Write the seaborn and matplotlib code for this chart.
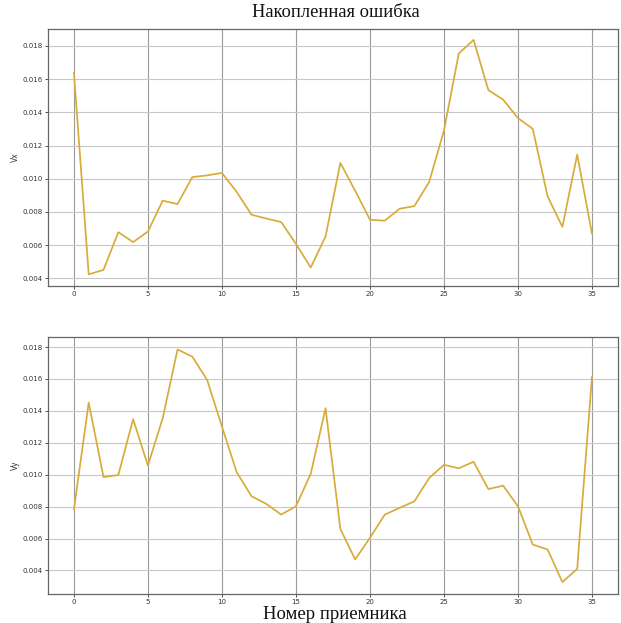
import numpy as np
import pandas as pd
import matplotlib
matplotlib.use("Agg")
import matplotlib.pyplot as plt
import seaborn as sns

receivers = list(range(36))
vx = [0.01639, 0.00424, 0.00451, 0.00678, 0.00618, 0.00682, 0.00868, 0.00847,
      0.01010, 0.01020, 0.01035, 0.00920, 0.00783, 0.00760, 0.00739, 0.00608,
      0.00465, 0.00652, 0.01095, 0.00928, 0.00753, 0.00747, 0.00819, 0.00835,
      0.00980, 0.01290, 0.01754, 0.01836, 0.01534, 0.01476, 0.01365, 0.01300,
      0.00894, 0.00710, 0.01145, 0.00668]
vy = [0.00781, 0.01452, 0.00985, 0.00998, 0.01348, 0.01058, 0.01354, 0.01785,
      0.01740, 0.01594, 0.01302, 0.01015, 0.00865, 0.00817, 0.00750, 0.00802,
      0.01006, 0.01417, 0.00660, 0.00469, 0.00604, 0.00750, 0.00792, 0.00833,
      0.00979, 0.01062, 0.01040, 0.01081, 0.00910, 0.00931, 0.00802, 0.00562,
      0.00531, 0.00327, 0.00410, 0.01615]
title = "Накопленная ошибка"
xlabel = "Номер приемника"
ylabels = ["Vx", "Vy"]

df = pd.DataFrame({"receiver": receivers, "Vx": vx, "Vy": vy})

sns.set_style("white")
fig = plt.figure(figsize=(6.21, 6.23), dpi=100)
ax1 = fig.add_axes([0.0773, 0.541, 0.9177, 0.4125])
ax2 = fig.add_axes([0.0773, 0.046, 0.9177, 0.413])

color = "#D8AC3A"
for ax, col, ylim in [(ax1, ylabels[0], (0.00354, 0.01902)), (ax2, ylabels[1], (0.0025, 0.01863))]:
    sns.lineplot(data=df, x="receiver", y=col, ax=ax, color=color, linewidth=1.25)
    ax.set_ylim(*ylim)
    ax.set_xlim(-1.75, 36.75)
    ax.set_xticks(range(0, 36, 5))
    ax.set_yticks([0.004, 0.006, 0.008, 0.010, 0.012, 0.014, 0.016, 0.018])
    ax.yaxis.set_major_formatter(matplotlib.ticker.FormatStrFormatter("%.3f"))
    ax.grid(axis="x", color="#9a9a9a", linewidth=0.8)
    ax.grid(axis="y", color="#c8c8c8", linewidth=0.8)
    ax.tick_params(labelsize=5.0, length=2.5, width=0.6, pad=1.2, colors="#333333",
                   left=True, bottom=True)
    ax.set_xlabel("")
    ax.set_ylabel(col, fontsize=5.5, color="#333333", labelpad=2)
    for s in ax.spines.values():
        s.set_color("#666666")
        s.set_linewidth(0.9)

fig.text(0.540, 0.980, title, ha="center", va="center",
         family="Liberation Serif", fontsize=13.3, color="#111111")
fig.text(0.539, 0.0135, xlabel, ha="center", va="center",
         family="Liberation Serif", fontsize=13.5, color="#111111")

fig.savefig("out.png", dpi=100)
